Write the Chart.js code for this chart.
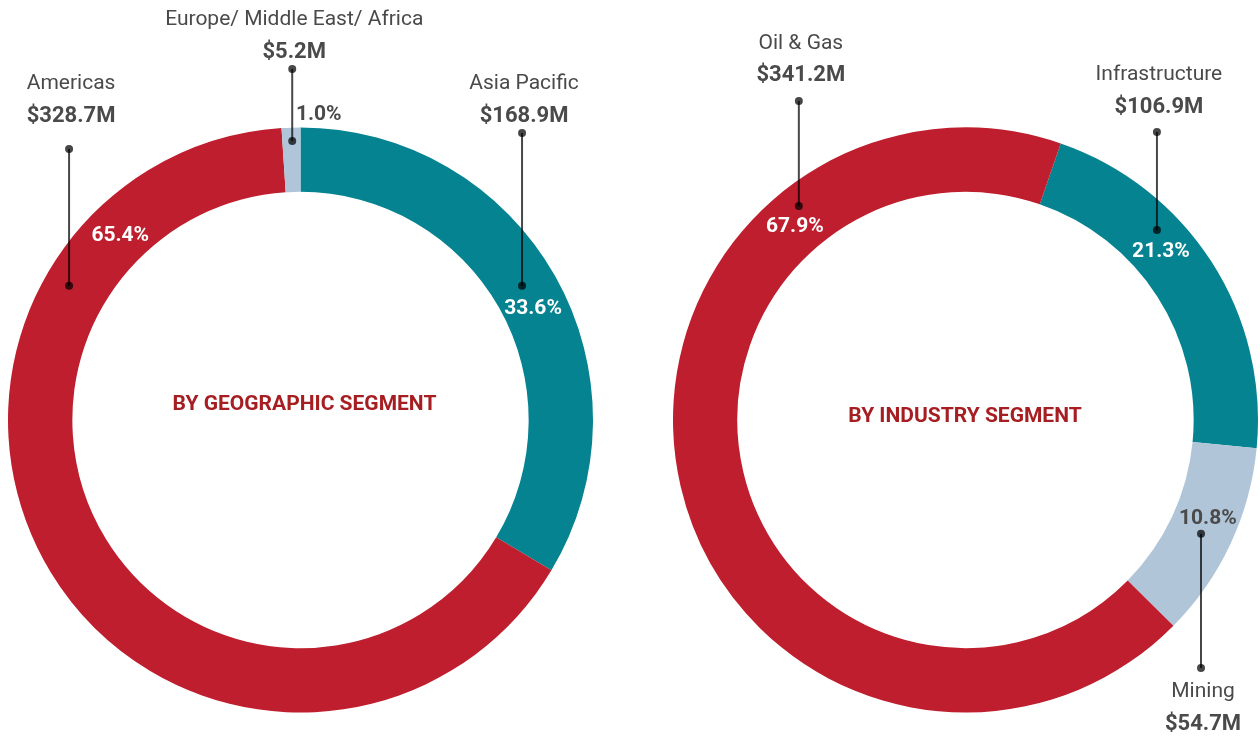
<!DOCTYPE html>
<html>
<head>
<meta charset="utf-8">
<script src="https://cdn.jsdelivr.net/npm/chart.js@4"></script>
<style>
  html, body { margin: 0; padding: 0; background: #fff; }
  #wrap { position: relative; width: 1260px; height: 736px; overflow: hidden; }
  .box { position: absolute; top: 0; width: 630px; height: 736px; }
</style>
</head>
<body>
<div id="wrap">
  <div class="box" style="left:0"><canvas id="geoChart"></canvas></div>
  <div class="box" style="left:630px"><canvas id="indChart"></canvas></div>
</div>
<script>
// geographic segment
const geoNames = ["Asia Pacific", "Americas", "Europe/ Middle East/ Africa"];
const geoValues = [168.9, 328.7, 5.2];
const geoPct = ["33.6%", "65.4%", "1.0%"];

// industry segment
const indNames = ["Infrastructure", "Mining", "Oil & Gas"];
const indValues = [106.9, 54.7, 341.2];
const indPct = ["21.3%", "10.8%", "67.9%"];

const RED = "#BE1E2D";
const TEAL = "#058390";
const PALE = "#B1C5D9";
const GREY = "#4a4a4a";
const TXT_SHIFT = 2; // middle baseline sits a bit high vs cap centre

// label placement: dot angle/radius on ring, leader end y, text y (relative to centre)
const geoLayout = [
  { ang: 58.8, r: 259, lineY: -287, valY: -306, nameY: -338, pctAng: 64.1, pctR: 258.5, pctColor: "#fff" },
  { ang: 300.1, r: 267.5, lineY: -271, valY: -306, nameY: -338, pctAng: 315.9, pctR: 259, pctColor: "#fff" },
  { ang: 358.3, r: 279, lineY: -351, valY: -370, nameY: -402, pctAng: 3.4, pctR: 307.6, pctColor: GREY }
];
const indLayout = [
  { ang: 45.2, r: 269.8, lineY: -288, valY: -315, nameY: -347, pctAng: 49.0, pctR: 259, pctColor: "#fff" },
  { ang: 115.8, r: 261.6, lineY: 248, valY: 302, nameY: 270, pctAng: 111.8, pctR: 261, pctColor: GREY },
  { ang: 322.1, r: 271.3, lineY: -319, valY: -347, nameY: -378, pctAng: 318.8, pctR: 259, pctColor: "#fff" }
];

const labelPlugin = {
  id: "ringLabels",
  afterDatasetsDraw(chart, args, opts) {
    const ctx = chart.ctx;
    const arc = chart.getDatasetMeta(0).data[0];
    const cx = arc.x, cy = arc.y;
    const names = chart.data.labels;
    const vals = chart.data.datasets[0].data;
    ctx.save();
    ctx.textAlign = "center";
    ctx.textBaseline = "middle";

    // centre title
    ctx.fillStyle = "#A61E22";
    ctx.font = "bold 21px Roboto";
    ctx.fillText(opts.title, cx + opts.titleDx, cy + opts.titleDy + TXT_SHIFT);

    opts.layout.forEach(function (l, i) {
      const a = l.ang * Math.PI / 180;
      const dx = cx + l.r * Math.sin(a);
      const dy = cy - l.r * Math.cos(a);
      const ey = cy + l.lineY;

      ctx.strokeStyle = "rgba(0,0,0,0.72)";
      ctx.fillStyle = "rgba(0,0,0,0.72)";
      ctx.lineWidth = 2;
      ctx.beginPath();
      ctx.moveTo(dx, dy);
      ctx.lineTo(dx, ey);
      ctx.stroke();
      [dy, ey].forEach(function (y) {
        ctx.beginPath();
        ctx.arc(dx, y, 4, 0, Math.PI * 2);
        ctx.fill();
      });

      ctx.fillStyle = GREY;
      ctx.font = "21px Roboto";
      ctx.fillText(names[i], dx + 2, cy + l.nameY + TXT_SHIFT);
      ctx.font = "bold 22px Roboto";
      ctx.fillText("$" + vals[i].toFixed(1) + "M", dx + 2, cy + l.valY + TXT_SHIFT);

      const pa = l.pctAng * Math.PI / 180;
      ctx.fillStyle = l.pctColor;
      ctx.font = "bold 21px Roboto";
      ctx.fillText(opts.pct[i], cx + l.pctR * Math.sin(pa), cy - l.pctR * Math.cos(pa) + TXT_SHIFT);
    });
    ctx.restore();
  }
};

function makeChart(id, names, values, colors, rotation, padding, ringOpts) {
  return new Chart(document.getElementById(id), {
    type: "doughnut",
    data: {
      labels: names,
      datasets: [{
        data: values,
        backgroundColor: colors,
        borderWidth: 0
      }]
    },
    options: {
      responsive: false,
      animation: false,
      rotation: rotation,
      cutout: "78%",
      layout: { padding: padding },
      plugins: {
        legend: { display: false },
        tooltip: { enabled: false },
        ringLabels: ringOpts
      }
    },
    plugins: [labelPlugin]
  });
}

document.getElementById("geoChart").width = 630;
document.getElementById("geoChart").height = 736;
document.getElementById("indChart").width = 630;
document.getElementById("indChart").height = 736;

makeChart("geoChart", geoNames, geoValues, [TEAL, RED, PALE], 0,
  { left: 8, right: 37, top: 127.5, bottom: 23.5 },
  { title: "BY GEOGRAPHIC SEGMENT", titleDx: 4, titleDy: -17, layout: geoLayout, pct: geoPct });

makeChart("indChart", indNames, indValues, [TEAL, PALE, RED], 19,
  { left: 43, right: 2, top: 127.5, bottom: 23.5 },
  { title: "BY INDUSTRY SEGMENT", titleDx: -0.5, titleDy: -5, layout: indLayout, pct: indPct });
</script>
</body>
</html>
